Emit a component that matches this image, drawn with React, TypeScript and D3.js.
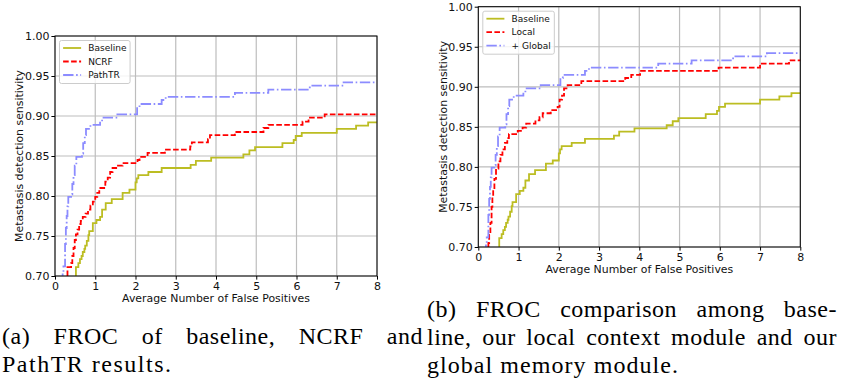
import React, { useEffect, useRef } from 'react';
import * as d3 from 'd3';

// axis ticks
const xTicks = [0, 1, 2, 3, 4, 5, 6, 7, 8];
const yTicks = [0.7, 0.75, 0.8, 0.85, 0.9, 0.95, 1.0];

// step curves: each point = average FP where sensitivity steps up to the value
const baselineFP = [0.52, 0.58, 0.62, 0.66, 0.69, 0.73, 0.75, 0.79, 0.83, 0.85, 0.94, 1.03, 1.12, 1.17, 1.26, 1.41, 1.68, 1.85, 2.0, 2.03, 2.07, 2.32, 2.65, 3.37, 3.5, 3.88, 4.68, 4.83, 4.97, 5.65, 5.93, 5.98, 6.13, 7.0, 7.48, 7.78];
const baselineSens = [0.711, 0.716, 0.721, 0.725, 0.73, 0.734, 0.738, 0.744, 0.751, 0.756, 0.766, 0.77, 0.774, 0.783, 0.791, 0.796, 0.804, 0.808, 0.817, 0.822, 0.826, 0.83, 0.835, 0.839, 0.844, 0.848, 0.852, 0.857, 0.861, 0.866, 0.87, 0.875, 0.879, 0.884, 0.888, 0.892];

const ncrfFP = [0.31, 0.4, 0.43, 0.46, 0.49, 0.52, 0.56, 0.6, 0.64, 0.69, 0.76, 0.82, 0.88, 0.94, 1.0, 1.05, 1.1, 1.25, 1.31, 1.37, 1.43, 1.52, 1.68, 2.05, 2.1, 2.3, 2.73, 3.36, 3.4, 3.8, 3.85, 4.47, 5.18, 5.3, 6.15, 6.3, 6.7];
const ncrfSens = [0.711, 0.716, 0.725, 0.735, 0.745, 0.752, 0.758, 0.765, 0.769, 0.774, 0.778, 0.783, 0.788, 0.793, 0.799, 0.804, 0.81, 0.818, 0.823, 0.83, 0.835, 0.838, 0.841, 0.845, 0.849, 0.854, 0.858, 0.862, 0.867, 0.871, 0.876, 0.88, 0.885, 0.889, 0.893, 0.898, 0.902];

const pathtrFP = [0.19, 0.21, 0.25, 0.27, 0.29, 0.31, 0.33, 0.4, 0.43, 0.46, 0.49, 0.53, 0.67, 0.7, 0.74, 0.77, 0.88, 1.12, 1.17, 1.55, 2.04, 2.1, 2.65, 2.75, 4.47, 5.3, 6.33, 7.17];
const pathtrSens = [0.705, 0.712, 0.74, 0.76, 0.775, 0.787, 0.799, 0.802, 0.815, 0.826, 0.838, 0.849, 0.853, 0.866, 0.876, 0.884, 0.889, 0.893, 0.898, 0.902, 0.911, 0.915, 0.92, 0.924, 0.929, 0.933, 0.938, 0.942];

const localFP = [0.25, 0.27, 0.3, 0.33, 0.35, 0.37, 0.4, 0.44, 0.5, 0.55, 0.6, 0.66, 0.72, 0.76, 0.98, 1.1, 1.19, 1.42, 1.52, 1.6, 1.8, 1.97, 2.02, 2.08, 2.13, 2.22, 2.56, 3.65, 3.8, 4.02, 5.97, 7.0, 7.72];
const localSens = [0.705, 0.715, 0.73, 0.75, 0.762, 0.771, 0.785, 0.798, 0.807, 0.815, 0.822, 0.83, 0.836, 0.841, 0.845, 0.849, 0.854, 0.858, 0.862, 0.867, 0.871, 0.875, 0.884, 0.889, 0.898, 0.902, 0.907, 0.911, 0.915, 0.92, 0.924, 0.929, 0.933];

const captionA = ['(a) FROC of baseline, NCRF and', 'PathTR results.'];
const captionB = ['(b) FROC comparison among base-', 'line, our local context module and our', 'global memory module.'];

const SANS = '"DejaVu Sans", sans-serif';
const SERIF = '"Liberation Serif", "DejaVu Serif", serif';

const OLIVE = '#bcbd22';
const RED = '#ff0000';
const PURPLE = '#8c8cff';

interface Series {
  label: string;
  fp: number[];
  sens: number[];
  color: string;
  dash: string | null;
}

interface Panel {
  id: string;
  left: number;
  top: number;
  width: number;
  height: number;
  series: Series[];
}

const panels: Panel[] = [
  {
    id: 'a',
    left: 55,
    top: 36,
    width: 322,
    height: 240,
    series: [
      { label: 'Baseline', fp: baselineFP, sens: baselineSens, color: OLIVE, dash: null },
      { label: 'NCRF', fp: ncrfFP, sens: ncrfSens, color: RED, dash: '5.6,2.4' },
      { label: 'PathTR', fp: pathtrFP, sens: pathtrSens, color: PURPLE, dash: '10.4,2.6,1.6,2.6' },
    ],
  },
  {
    id: 'b',
    left: 478.3,
    top: 6.7,
    width: 322,
    height: 240.3,
    series: [
      { label: 'Baseline', fp: baselineFP, sens: baselineSens, color: OLIVE, dash: null },
      { label: 'Local', fp: localFP, sens: localSens, color: RED, dash: '5.6,2.4' },
      { label: '+ Global', fp: pathtrFP, sens: pathtrSens, color: PURPLE, dash: '10.4,2.6,1.6,2.6' },
    ],
  },
];

function drawPanel(root: d3.Selection<SVGGElement, unknown, null, undefined>, p: Panel) {
  const g = root.append('g').attr('transform', `translate(${p.left}, ${p.top})`);
  const x = d3.scaleLinear().domain([0, 8]).range([0, p.width]);
  const y = d3.scaleLinear().domain([0.7, 1.0]).range([p.height, 0]);

  // grid
  g.append('g')
    .selectAll('line')
    .data(xTicks)
    .join('line')
    .attr('x1', d => x(d))
    .attr('x2', d => x(d))
    .attr('y1', 0)
    .attr('y2', p.height)
    .attr('stroke', '#bdbdbd')
    .attr('stroke-width', 1.2);
  g.append('g')
    .selectAll('line')
    .data(yTicks)
    .join('line')
    .attr('x1', 0)
    .attr('x2', p.width)
    .attr('y1', d => y(d))
    .attr('y2', d => y(d))
    .attr('stroke', '#bdbdbd')
    .attr('stroke-width', 1.2);

  // clip for curves
  const clipId = `clip-${p.id}`;
  g.append('clipPath').attr('id', clipId).append('rect').attr('width', p.width).attr('height', p.height);

  const line = d3
    .line<[number, number]>()
    .x(d => x(d[0]))
    .y(d => y(d[1]))
    .curve(d3.curveStepAfter);

  const curves = g.append('g').attr('clip-path', `url(#${clipId})`);
  p.series.forEach(s => {
    const pts: [number, number][] = [[s.fp[0], 0.69]];
    s.fp.forEach((f, i) => pts.push([f, s.sens[i]]));
    pts.push([8.1, s.sens[s.sens.length - 1]]);
    curves
      .append('path')
      .attr('d', line(pts))
      .attr('fill', 'none')
      .attr('stroke', s.color)
      .attr('stroke-width', 1.8)
      .attr('stroke-dasharray', s.dash);
  });

  // spines
  g.append('rect')
    .attr('width', p.width)
    .attr('height', p.height)
    .attr('fill', 'none')
    .attr('stroke', '#000')
    .attr('stroke-width', 1);

  // axes
  const xAxis = g
    .append('g')
    .attr('transform', `translate(0, ${p.height})`)
    .call(d3.axisBottom(x).tickValues(xTicks).tickFormat(d3.format('d')).tickSize(3.6).tickSizeOuter(0).tickPadding(2.4));
  const yAxis = g
    .append('g')
    .call(d3.axisLeft(y).tickValues(yTicks).tickFormat(d3.format('.2f')).tickSize(3.6).tickSizeOuter(0).tickPadding(2));
  [xAxis, yAxis].forEach(a => {
    a.select('.domain').remove();
    a.selectAll('.tick line').attr('stroke', '#000').attr('stroke-width', 1);
    a.selectAll('.tick text')
      .attr('fill', '#111')
      .attr('font-size', '11px')
      .attr('font-family', SANS);
  });

  // axis labels
  g.append('text')
    .attr('x', p.width / 2)
    .attr('y', p.height + 25.8)
    .attr('text-anchor', 'middle')
    .attr('font-size', '10.9px')
    .attr('font-family', SANS)
    .attr('fill', '#111')
    .text('Average Number of False Positives');
  g.append('text')
    .attr('transform', `translate(-31.8, ${p.height / 2}) rotate(-90)`)
    .attr('text-anchor', 'middle')
    .attr('font-size', '10.9px')
    .attr('font-family', SANS)
    .attr('fill', '#111')
    .text('Metastasis detection sensitivity');

  // legend
  const fs = 9;
  const lg = g.append('g').attr('transform', `translate(${fs * 0.5}, ${fs * 0.5})`);
  const box = lg
    .append('rect')
    .attr('rx', 2)
    .attr('ry', 2)
    .attr('height', 43)
    .attr('fill', 'rgba(255,255,255,0.8)')
    .attr('stroke', '#cccccc')
    .attr('stroke-width', 1);
  let maxW = 0;
  p.series.forEach((s, i) => {
    const cy = 7.5 + i * 13.5;
    lg.append('line')
      .attr('x1', 3.6)
      .attr('x2', 21.6)
      .attr('y1', cy)
      .attr('y2', cy)
      .attr('stroke', s.color)
      .attr('stroke-width', 1.8)
      .attr('stroke-dasharray', s.dash);
    const t = lg
      .append('text')
      .attr('x', 28.8)
      .attr('y', cy + 3.2)
      .attr('font-size', `${fs}px`)
      .attr('font-family', SANS)
      .attr('fill', '#111')
      .text(s.label);
    maxW = Math.max(maxW, (t.node() as SVGTextElement).getComputedTextLength());
  });
  box.attr('width', 28.8 + maxW + 3.6);
}

interface CaptionLine {
  text: string;
  x: number;
  y: number;
  width: number;
  justify: boolean;
}

const captionLines: CaptionLine[] = [
  { text: captionA[0], x: 2, y: 344, width: 421, justify: true },
  { text: captionA[1], x: 2, y: 372, width: 169, justify: false },
  { text: captionB[0], x: 427, y: 317, width: 410, justify: true },
  { text: captionB[1], x: 427, y: 345, width: 410, justify: true },
  { text: captionB[2], x: 427, y: 373, width: 251, justify: false },
];

export default function App() {
  const svgRef = useRef<SVGSVGElement>(null);

  useEffect(() => {
    if (!svgRef.current) return;
    const svg = d3.select(svgRef.current);
    svg.selectAll('*').remove();
    const root = svg.append('g');

    panels.forEach(p => drawPanel(root, p));

    // captions, justified like the LaTeX source
    const cap = root.append('g');
    captionLines.forEach(c => {
      const t = cap
        .append('text')
        .attr('x', c.x)
        .attr('y', c.y)
        .attr('font-size', '24px')
        .attr('font-family', SERIF)
        .attr('fill', '#000')
        .style('letter-spacing', '0.5px')
        .text(c.text);
      const node = t.node() as SVGTextElement;
      const natural = node.getComputedTextLength();
      if (c.justify) {
        const gaps = c.text.split(' ').length - 1;
        t.style('word-spacing', `${(c.width - natural) / gaps}px`);
      } else {
        t.style('letter-spacing', null).attr('textLength', c.width).attr('lengthAdjust', 'spacing');
      }
    });
  }, []);

  return (
    <div style={{ position: 'absolute', left: 0, top: 0, background: '#fff' }}>
      <svg ref={svgRef} width={841} height={384} style={{ display: 'block' }}></svg>
    </div>
  );
}
